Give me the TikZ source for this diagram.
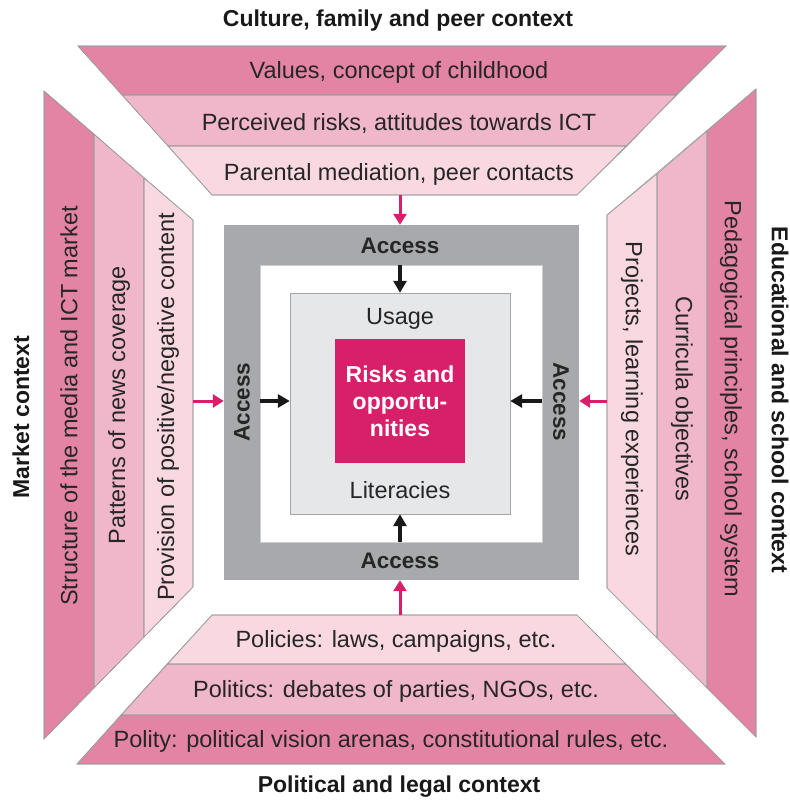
\documentclass[tikz,border=0pt]{standalone}
\usepackage{fontspec}
\setmainfont{Liberation Sans}
\usetikzlibrary{arrows.meta, positioning, calc}
\definecolor{bandA}{HTML}{E484A4}
\definecolor{bandB}{HTML}{F0B6CA}
\definecolor{bandC}{HTML}{F9D8E2}
\definecolor{accgray}{HTML}{A7A9AC}
\definecolor{usegray}{HTML}{E6E7E8}
\definecolor{riskpink}{HTML}{D81F69}
\definecolor{edgegray}{HTML}{9C9C9C}
\newcommand{\txt}{\fontsize{23.5}{27}\selectfont}
\newcommand{\ttl}{\fontsize{23}{27}\selectfont\bfseries}

\begin{document}
\begin{tikzpicture}[
  x=1pt, y=-1pt,
  band/.style = {draw=edgegray, line width=0.6pt},
  lab/.style  = {font=\txt, text=black!85, inner sep=0pt},
  ctx/.style  = {font=\ttl, text=black!90, inner sep=0pt},
  acc/.style  = {font=\fontsize{22.5}{27}\selectfont\bfseries, text=black!85, inner sep=0pt},
  pinkarr/.style  = {-{Triangle[length=11pt, width=13pt]}, riskpink, line width=3pt},
  blackarr/.style = {-{Triangle[length=12pt, width=13pt]}, black!90, line width=3.2pt}
]
\useasboundingbox (0,0) rectangle (790,801);

% culture, family and peer context (top)
\fill[band, fill=bandA] (78,46) -- (726,46) -- (676,95) -- (122,95) -- cycle;
\fill[band, fill=bandB] (122,95) -- (676,95) -- (627,146) -- (168,146) -- cycle;
\fill[band, fill=bandC] (168,146) -- (627,146) -- (577,195) -- (212,195) -- cycle;
\draw[band] (78,46) -- (726,46) -- (577,195) -- (212,195) -- cycle
            (122,95) -- (676,95) (168,146) -- (627,146);

% political and legal context (bottom)
\fill[band, fill=bandA] (77,764) -- (725,764) -- (676,715) -- (121,715) -- cycle;
\fill[band, fill=bandB] (121,715) -- (676,715) -- (626,664) -- (167,664) -- cycle;
\fill[band, fill=bandC] (167,664) -- (626,664) -- (577,615) -- (212,615) -- cycle;
\draw[band] (77,764) -- (725,764) -- (577,615) -- (212,615) -- cycle
            (121,715) -- (676,715) (167,664) -- (626,664);

% market context (left)
\fill[band, fill=bandA] (44,91) -- (94,134) -- (94,688) -- (44,739) -- cycle;
\fill[band, fill=bandB] (94,134) -- (144,178) -- (144,637) -- (94,688) -- cycle;
\fill[band, fill=bandC] (144,178) -- (193,220) -- (193,587) -- (144,637) -- cycle;
\draw[band] (44,91) -- (193,220) -- (193,587) -- (44,739) -- cycle
            (94,134) -- (94,688) (144,178) -- (144,637);

% educational and school context (right)
\fill[band, fill=bandA] (756,89) -- (707,131) -- (707,688) -- (756,737) -- cycle;
\fill[band, fill=bandB] (707,131) -- (657,174) -- (657,638) -- (707,688) -- cycle;
\fill[band, fill=bandC] (657,174) -- (607,215) -- (607,588) -- (657,638) -- cycle;
\draw[band] (756,89) -- (607,215) -- (607,588) -- (756,737) -- cycle
            (707,131) -- (707,688) (657,174) -- (657,638);

% band labels
\node[lab] (values)    at (399,72)  {Values, concept of childhood};
\node[lab] (perceived) at (399,123) {Perceived risks, attitudes towards ICT};
\node[lab] (parental)  at (399,174) {Parental mediation, peer contacts};
\node[lab] (policies)  at (396,641) {Policies: laws, campaigns, etc.};
\node[lab] (politics)  at (396,691) {Politics: debates of parties, NGOs, etc.};
\node[lab] (polity)    at (391,741) {Polity: political vision arenas, constitutional rules, etc.};
\node[lab, rotate=90]  (structure) at (69,406)  {Structure of the media and ICT market};
\node[lab, rotate=90]  (patterns)  at (119,405) {Patterns of news coverage};
\node[lab, rotate=90]  (provision) at (168,407) {Provision of positive/negative content};
\node[lab, rotate=-90] (pedagogy)  at (731,399) {Pedagogical principles, school system};
\node[lab, rotate=-90] (curricula) at (682,399) {Curricula objectives};
\node[lab, rotate=-90] (projects)  at (632,399) {Projects, learning experiences};

% context titles
\node[ctx] (culture)   at (398,21)  {Culture, family and peer context};
\node[ctx] (political) at (399,787) {Political and legal context};
\node[ctx, rotate=90]  (market)      at (21,417)  {Market context};
\node[ctx, rotate=-90] (educational) at (780,400) {Educational and school context};

% access frame and core
\node[fill=accgray, minimum size=355, inner sep=0pt] (access) at (401.5,402.5) {};
\node[fill=white, draw=black!20, minimum width=282, minimum height=277, inner sep=0pt]
  (inner) at (401,403.5) {};
\node[fill=usegray, draw=black!35, minimum width=220, minimum height=221, inner sep=0pt]
  (usage) at (400,403.5) {};
\node[fill=riskpink, minimum width=130, minimum height=124, inner sep=0pt,
  font=\ttl, text=white, align=center] (risks) at (400,401)
  {Risks and\\opportu-\\nities};

\node[lab] at (400,319) (usagelab) {Usage};
\node[lab] at (400,490) (literacies) {Literacies};
\node[acc] (accN) at (400,246) {Access};
\node[acc] (accS) at (400,561) {Access};
\node[acc, rotate=90]  (accW) at (242,402) {Access};
\node[acc, rotate=-90] (accE) at (561,402) {Access};

% influences from the four contexts
\coordinate (inN) at (400,195);
\coordinate (inS) at (400,615);
\coordinate (inW) at (193,401);
\coordinate (inE) at (607,401);
\draw[pinkarr] (inN) -- (inN |- access.north);
\draw[pinkarr] (inS) -- (inS |- access.south);
\draw[pinkarr] (inW) -- (inW -| access.west);
\draw[pinkarr] (inE) -- (inE -| access.east);

% access feeds usage and literacies
\draw[blackarr] (inner.north -| usage) -- (usage.north);
\draw[blackarr] (inner.south -| usage) -- (usage.south);
\draw[blackarr] (inner.west |- inW) -- (usage.west |- inW);
\draw[blackarr] (inner.east |- inE) -- (usage.east |- inE);
\end{tikzpicture}
\end{document}
